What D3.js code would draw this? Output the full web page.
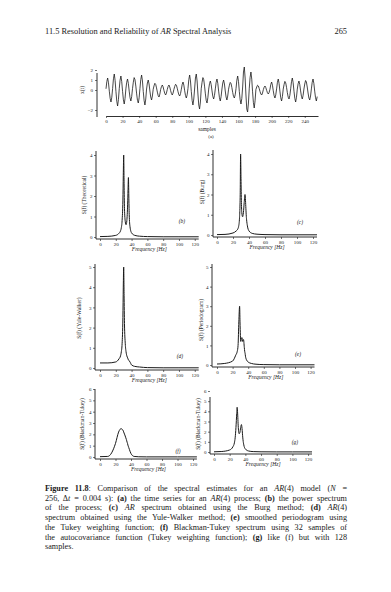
<!DOCTYPE html>
<html><head><meta charset="utf-8">
<script src="https://cdn.jsdelivr.net/npm/d3@7"></script>
<style>html,body{margin:0;padding:0;background:#fff;}svg{display:block}</style>
</head><body><svg id="c" width="391" height="592"></svg>
<script>
// ---- data ----
const timeSeries = [
0.12,0.84,1.2,0.72,-0.12,-0.84,-1.2,-0.72,
0.16,1.12,1.6,0.96,-0.16,-1.12,-1.6,-0.96,
0.14,0.98,1.4,0.84,-0.14,-0.98,-1.4,-0.84,
0.11,0.77,1.1,0.66,-0.11,-0.77,-1.1,-0.66,
0.13,0.78,1.24,1.04,0.39,-0.39,-1.04,-1.3,-0.78,
0.15,1.05,1.5,0.9,-0.15,-1.05,-1.5,-0.9,
0.1,0.7,1.0,0.6,-0.1,-0.7,-1.0,-0.6,
0.07,0.42,0.67,0.56,0.21,-0.21,-0.56,-0.7,-0.42,
0.05,0.35,0.5,0.3,-0.05,-0.35,-0.5,-0.3,
0.05,0.35,0.5,0.3,-0.05,-0.35,-0.5,-0.3,
0.06,0.36,0.57,0.48,0.18,-0.18,-0.48,-0.6,-0.36,
0.08,0.56,0.8,0.48,-0.08,-0.56,-0.8,-0.48,
0.15,1.05,1.5,0.9,-0.15,-1.05,-1.5,-0.9,
0.1,1.2,1.6,0.9,-0.4,-1.5,-1.9,-1.2,
0.13,0.78,1.24,1.04,0.39,-0.39,-1.04,-1.3,-0.78,
0.09,0.63,0.9,0.54,-0.09,-0.63,-0.9,-0.54,
0.11,0.77,1.1,0.66,-0.11,-0.77,-1.1,-0.66,
0.1,0.7,1.0,0.6,-0.1,-0.7,-1.0,-0.6,
0.08,0.48,0.76,0.64,0.24,-0.24,-0.64,-0.8,-0.48,
0.14,0.98,1.4,0.84,-0.14,-0.98,-1.4,-0.84,
0.3,1.8,2.3,1.2,-0.5,-1.9,-2.2,-1.3,
0.18,1.26,1.8,1.08,-0.18,-1.26,-1.8,-1.08,
0.05,0.3,0.48,0.4,0.15,-0.15,-0.4,-0.5,-0.3,
0.04,0.28,0.4,0.24,-0.04,-0.28,-0.4,-0.24,
0.08,0.56,0.8,0.48,-0.08,-0.56,-0.8,-0.48,
0.11,0.77,1.1,0.66,-0.11,-0.77,-1.1,-0.66,
0.09,0.54,0.86,0.72,0.27,-0.27,-0.72,-0.9,-0.54,
0.12,0.84,1.2,0.72,-0.12,-0.84,-1.2,-0.72,
0.09,0.63,0.9,0.54,-0.09,-0.63,-0.9,-0.54,
0.1,0.6,0.95,0.8,0.3,-0.3,-0.8,-1.0,-0.6,
0.11,0.77,1.1,0.66,-0.11,-0.77,-1.1,-0.66
];
const sampleTicks = [0,20,40,60,80,100,120,140,160,180,200,220,240];
const seriesTicks = [-2,0,1,2];

const freqHz      = [0,10,20,24,26,27,28,29,29.5,30,30.5,31,32,33,34,35,35.5,36,36.5,37,38,40,44,50,60,80,100,125];
const theoretical = [0.02,0.03,0.08,0.18,0.3,0.45,0.8,1.8,3.0,4.0,2.6,1.4,0.75,0.6,0.8,1.6,2.3,2.9,2.0,1.1,0.5,0.2,0.08,0.04,0.02,0.01,0.01,0.01];
const burg        = [0.02,0.03,0.1,0.2,0.3,0.42,0.75,2.0,4.0,2.8,1.6,1.1,0.9,1.1,1.6,2.0,1.8,1.4,1.0,0.75,0.45,0.2,0.08,0.04,0.02,0.01,0.01,0.01];
const yuleWalker  = [0.25,0.25,0.3,0.45,0.6,0.8,1.2,2.5,4.0,5.0,3.6,2.2,1.2,0.8,0.6,0.5,0.45,0.4,0.38,0.35,0.3,0.15,0.08,0.05,0.02,0.01,0.01,0.01];
const periodogram = [0.05,0.08,0.2,0.5,0.7,1.0,2.2,3.0,2.2,1.5,1.2,1.3,1.4,1.2,1.3,0.9,0.7,0.6,0.45,0.35,0.25,0.15,0.08,0.04,0.02,0.01,0.01,0.01];
const bt32        = [0.03,0.05,1.2,2.2,2.45,2.5,2.48,2.42,2.38,2.3,2.22,2.12,1.95,1.75,1.55,1.3,1.2,1.05,0.95,0.85,0.65,0.3,0.05,0.02,0.01,0.01,0.01,0.01];
const bt128       = [0.02,0.05,0.2,0.5,0.9,1.4,2.4,3.8,4.4,4.0,3.2,2.4,1.8,1.9,2.4,2.7,2.5,2.1,1.6,1.2,0.7,0.3,0.1,0.04,0.02,0.01,0.01,0.01];
const freqTicks = [0,20,40,60,80,100,120];

const headerLeft = "11.5 Resolution and Reliability of _AR_ Spectral Analysis";
const headerRight = "265";
const captionLines = [
 "**Figure 11.8**: Comparison of the spectral estimates for an _AR_(4) model (_N_ =",
 "256, Δ_t_ = 0.004 s): **(a)** the time series for an _AR_(4) process; **(b)** the power spectrum",
 "of the process; **(c)** _AR_ spectrum obtained using the Burg method; **(d)** _AR_(4)",
 "spectrum obtained using the Yule-Walker method; **(e)** smoothed periodogram using",
 "the Tukey weighting function; **(f)** Blackman-Tukey spectrum using 32 samples of",
 "the autocovariance function (Tukey weighting function); **(g)** like (f) but with 128",
 "samples."
];

// ---- drawing ----
const svg = d3.select("#c");
const ink = "#1a1a1a";
const serif = "'Liberation Serif','DejaVu Serif',serif";
const tiny = 5;
const fmt = d3.format("d");

function richText(sel, str){
  const parts = str.split(/(\*\*[^*]+\*\*|_[^_]+_)/).filter(s=>s.length);
  parts.forEach(p=>{
    const ts = sel.append("tspan");
    if (p.startsWith("**")) ts.attr("font-weight","bold").text(p.slice(2,-2));
    else if (p.startsWith("_")) ts.attr("font-style","italic").text(p.slice(1,-1));
    else ts.text(p);
  });
}

// header
const h = svg.append("text").attr("x",45).attr("y",34).attr("font-family",serif)
  .attr("font-size",8.4).attr("fill",ink);
richText(h, headerLeft);
svg.append("text").attr("x",347).attr("y",34).attr("text-anchor","end").attr("font-family",serif)
  .attr("font-size",8.4).attr("fill",ink).text(headerRight);

function styleAxis(g){
  g.selectAll("path.domain").attr("stroke",ink).attr("stroke-width",0.9);
  g.selectAll(".tick line").attr("stroke",ink).attr("stroke-width",0.6);
  g.selectAll(".tick text").attr("font-family",serif).attr("font-size",tiny).attr("fill",ink);
}

// panel (a): time series
{
  const x = d3.scaleLinear().domain([0,256]).range([106,318]);
  const y = d3.scaleLinear().domain([-2,2]).range([110,70]);
  const line = d3.line().x((d,i)=>x(i)).y(d=>y(d));
  svg.append("path").datum(timeSeries).attr("d",line).attr("fill","none")
    .attr("stroke",ink).attr("stroke-width",0.8);
  const gy = svg.append("g").attr("transform","translate(97,0)")
    .call(d3.axisLeft(y).tickValues(seriesTicks).tickFormat(fmt).tickSize(2).tickSizeOuter(0).tickPadding(2));
  gy.select("path.domain").attr("d","M0,73V117");
  styleAxis(gy);
  const gx = svg.append("g").attr("transform","translate(0,116)")
    .call(d3.axisBottom(x).tickValues(sampleTicks).tickFormat(fmt).tickSize(2).tickSizeOuter(0).tickPadding(1));
  styleAxis(gx);
  svg.append("text").attr("transform","translate(84,90) rotate(-90)").attr("text-anchor","middle")
    .attr("font-family",serif).attr("font-size",tiny+0.5).attr("fill",ink).text("x(t)");
  svg.append("text").attr("x",207).attr("y",130.5).attr("text-anchor","middle")
    .attr("font-family",serif).attr("font-size",tiny+0.5).attr("fill",ink).text("samples");
  svg.append("text").attr("x",211).attr("y",138).attr("text-anchor","middle")
    .attr("font-family",serif).attr("font-size",tiny).attr("fill",ink).text("(a)");
}

const panels = [
 {data:theoretical, x0:100, x1:198.7, y0:237, ymax:4, ytop:155, ticks:[0,1,2,3,4], ax:96, atop:151, label:"S(f) (Theoretical)", lx:86, ly:195, letter:"(b)", px:182, py:223},
 {data:burg,        x0:217, x1:317,   y0:235, ymax:4, ytop:154, ticks:[0,1,2,3,4], ax:213, atop:150, label:"S(f) (Burg)",        lx:204, ly:192, letter:"(c)", px:300, py:224},
 {data:yuleWalker,  x0:100, x1:198.7, y0:368, ymax:5, ytop:267, ticks:[0,1,2,3,4,5], ax:95, atop:264, label:"S(f) (Yule-Walker)", lx:81, ly:318, letter:"(d)", px:180, py:358},
 {data:periodogram, x0:217, x1:314.5, y0:365, ymax:5, ytop:267, ticks:[0,1,2,3,4,5], ax:212, atop:264, label:"S(f) (Periodogram)", lx:203, ly:320, letter:"(e)", px:298, py:356},
 {data:bt32,        x0:100, x1:196.9, y0:457, ymax:6, ytop:389, ticks:[0,1,2,3,4,5,6], ax:95, atop:389, label:"S(f) (Blackman-Tukey)", lx:84, ly:424, letter:"(f)", px:178, py:453},
 {data:bt128,       x0:214, x1:312,   y0:452, ymax:6, ytop:391, ticks:[0,1,2,3,4,5,6], ax:210, atop:397, label:"S(f) (Blackman-Tukey)", lx:200, ly:424, letter:"(g)", px:295, py:444}
];

panels.forEach(p=>{
  const x = d3.scaleLinear().domain([0,125]).range([p.x0,p.x1]);
  const y = d3.scaleLinear().domain([0,p.ymax]).range([p.y0,p.ytop]);
  const line = d3.line().x((d,i)=>x(freqHz[i])).y(d=>y(d)).curve(d3.curveMonotoneX);
  svg.append("path").datum(p.data).attr("d",line).attr("fill","none")
    .attr("stroke",ink).attr("stroke-width",1);
  const gy = svg.append("g").attr("transform",`translate(${p.ax},0)`)
    .call(d3.axisLeft(y).tickValues(p.ticks).tickFormat(fmt).tickSize(2).tickSizeOuter(0).tickPadding(1.5));
  gy.select("path.domain").attr("d",`M0,${p.atop}V${p.y0+2}`);
  styleAxis(gy);
  const gx = svg.append("g").attr("transform",`translate(0,${p.y0+2})`)
    .call(d3.axisBottom(x).tickValues(freqTicks).tickFormat(fmt).tickSize(2).tickSizeOuter(0).tickPadding(1.5));
  gx.select("path.domain").attr("d",`M${p.ax},0H${p.x1}`);
  styleAxis(gx);
  svg.append("text").attr("transform",`translate(${p.lx},${p.ly}) rotate(-90)`).attr("text-anchor","middle")
    .attr("font-family",serif).attr("font-size",tiny+0.5).attr("fill",ink).text(p.label);
  svg.append("text").attr("x",(p.x0+p.x1)/2).attr("y",p.y0+14).attr("text-anchor","middle")
    .attr("font-family",serif).attr("font-size",tiny+0.5).attr("font-style","italic").attr("fill",ink).text("Frequency [Hz]");
  svg.append("text").attr("x",p.px).attr("y",p.py).attr("text-anchor","middle")
    .attr("font-family",serif).attr("font-size",tiny+0.5).attr("font-style","italic").attr("fill",ink).text(p.letter);
});

// caption
captionLines.forEach((line,i)=>{
  const t = svg.append("text").attr("x",45).attr("y",491+i*9.7).attr("font-family",serif)
    .attr("font-size",8.2).attr("fill",ink);
  richText(t,line);
  if (i < captionLines.length-1){
    const w = t.node().getComputedTextLength();
    const plain = line.replace(/\*\*|_/g,"");
    const spaces = (plain.match(/ /g)||[]).length;
    t.attr("word-spacing", ((302-w)/spaces).toFixed(3));
  }
});
</script></body></html>
